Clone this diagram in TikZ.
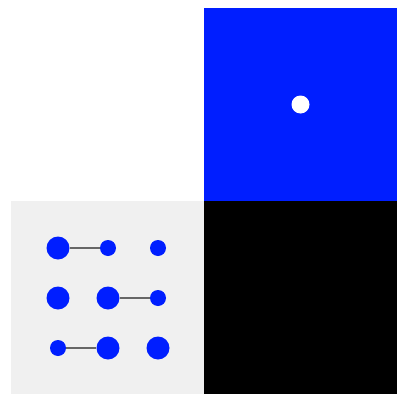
\documentclass[tikz,border=0pt]{standalone}
\usetikzlibrary{positioning}
\definecolor{vivid}{RGB}{0,30,255}
\definecolor{paper}{RGB}{240,240,240}
\tikzset{
  big/.style={circle, fill=vivid, inner sep=0pt, minimum size=23pt},
  small/.style={circle, fill=vivid, inner sep=0pt, minimum size=16pt},
  link/.style={draw=black!60, line width=1.5pt}
}
\begin{document}
\begin{tikzpicture}[x=1pt, y=-1pt, node distance=50pt and 50pt]
    \useasboundingbox (0,0) rectangle (397,394);
%
    \fill[vivid] (204,8) rectangle (397,201);
    \fill[black] (204,201) rectangle (397,394);
    \fill[paper] (11,201) rectangle (204,394);
%
    \node[circle, fill=white, inner sep=0pt, minimum size=18pt] (eye) at (300.5,104.5) {};
%
    \node[big]   (a1) at (58,248) {};
    \node[small] (a2) at (108,248) {};
    \node[small] (a3) at (158,248) {};
    \node[big]   (b1) at (58,298) {};
    \node[big]   (b2) at (108,298) {};
    \node[small] (b3) at (158,298) {};
    \node[small] (c1) at (58,348) {};
    \node[big]   (c2) at (108,348) {};
    \node[big]   (c3) at (158,348) {};
%
    \draw[link] (a1) -- (a2);
    \draw[link] (b2) -- (b3);
    \draw[link] (c1) -- (c2);
\end{tikzpicture}
\end{document}
